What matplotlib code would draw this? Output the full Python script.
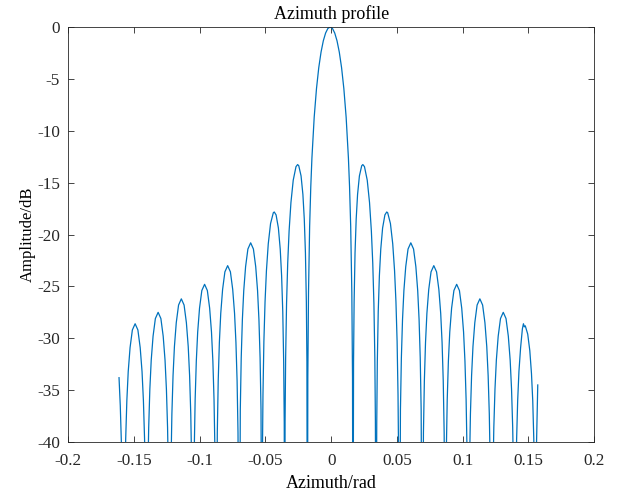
import numpy as np
import matplotlib
matplotlib.use('Agg')
import matplotlib.pyplot as plt

plt.rcParams['font.family'] = ['Liberation Serif', 'DejaVu Serif']
plt.rcParams['axes.unicode_minus'] = False

# --- data (azimuth in rad, amplitude in dB) ---
# nulls drop far below the -40 dB floor, so they are given as -60 and clipped
NULL_DB = -60

nulls = [-0.1580, -0.1403, -0.1230, -0.1050, -0.0876, -0.0699, -0.0526, -0.0354, -0.0181,
         0.0166, 0.0341, 0.0519, 0.0693, 0.0869, 0.1041, 0.1222, 0.1397, 0.1556]

# curve pieces between nulls, left to right
lobe_az = [
    [-0.1614, -0.16045, -0.15958, -0.15888],
    [-0.15703, -0.15633, -0.15545, -0.1544, -0.153, -0.15125, -0.14915, -0.14705, -0.1453, -0.1439, -0.14285, -0.14197, -0.14127],
    [-0.13953, -0.13883, -0.13795, -0.1369, -0.1355, -0.13375, -0.13165, -0.12955, -0.1278, -0.1264, -0.12535, -0.12447, -0.12377],
    [-0.12188, -0.12118, -0.1203, -0.11925, -0.11785, -0.1161, -0.1140, -0.1119, -0.11015, -0.10875, -0.1077, -0.10682, -0.10612],
    [-0.10418, -0.10348, -0.1026, -0.10155, -0.10015, -0.0984, -0.0963, -0.0942, -0.09245, -0.09105, -0.09, -0.08912, -0.08842],
    [-0.08663, -0.08593, -0.08505, -0.084, -0.0826, -0.08085, -0.07875, -0.07665, -0.0749, -0.0735, -0.07245, -0.07157, -0.07087],
    [-0.06913, -0.06843, -0.06755, -0.0665, -0.0651, -0.06335, -0.06125, -0.05915, -0.0574, -0.056, -0.05495, -0.05407, -0.05337],
    [-0.05231, -0.05188, -0.05118, -0.0503, -0.04925, -0.04785, -0.0461, -0.0440, -0.04329, -0.0419, -0.04015, -0.03875, -0.0377, -0.03682, -0.03612, -0.03569],
    [-0.03506, -0.03463, -0.03393, -0.03305, -0.032, -0.0306, -0.02885, -0.02675, -0.02552, -0.02465, -0.0229, -0.0215, -0.02045, -0.01957, -0.01887, -0.01844],
    [-0.01775, -0.01723, -0.01637, -0.0155, -0.01463, -0.0129, -0.01116, -0.00943, -0.00769, -0.00596, -0.00422, -0.00249, -0.00075,
     0.00099, 0.00272, 0.00446, 0.00619, 0.00793, 0.00966, 0.0114, 0.01313, 0.014, 0.01487, 0.01573, 0.01625],
    [0.01704, 0.01747, 0.01817, 0.01905, 0.0201, 0.0215, 0.02325, 0.02412, 0.02535, 0.02745, 0.0292, 0.0306, 0.03165, 0.03253, 0.03323, 0.03366],
    [0.03469, 0.03512, 0.03582, 0.0367, 0.03775, 0.03915, 0.0409, 0.04228, 0.0430, 0.0451, 0.04685, 0.04825, 0.0493, 0.05018, 0.05088, 0.05131],
    [0.05272, 0.05342, 0.0543, 0.05535, 0.05675, 0.0585, 0.0606, 0.0627, 0.06445, 0.06585, 0.0669, 0.06778, 0.06848],
    [0.07022, 0.07092, 0.0718, 0.07285, 0.07425, 0.076, 0.0781, 0.0802, 0.08195, 0.08335, 0.0844, 0.08528, 0.08598],
    [0.08762, 0.08832, 0.0892, 0.09025, 0.09165, 0.0934, 0.0955, 0.0976, 0.09935, 0.10075, 0.1018, 0.10268, 0.10338],
    [0.10527, 0.10597, 0.10685, 0.1079, 0.1093, 0.11105, 0.11315, 0.11525, 0.117, 0.1184, 0.11945, 0.12033, 0.12103],
    [0.12307, 0.12377, 0.12465, 0.1257, 0.1271, 0.12885, 0.13095, 0.13305, 0.1348, 0.1362, 0.13725, 0.13813, 0.13883],
    [0.14049, 0.14112, 0.14192, 0.14288, 0.14415, 0.1455, 0.1463, 0.1470, 0.1477, 0.14956, 0.15115, 0.15242, 0.15338, 0.15418, 0.15481],
    [0.1562, 0.1567, 0.1572],
]

lobe_db = [
    [-33.8, -36.5, -40.2, -45.2],
    [-44.7, -39.7, -36.0, -33.2, -30.9, -29.2, -28.6, -29.2, -30.9, -33.2, -36.0, -39.7, -44.7],
    [-43.6, -38.6, -34.9, -32.1, -29.8, -28.1, -27.5, -28.1, -29.8, -32.1, -34.9, -38.6, -43.6],
    [-42.3, -37.3, -33.6, -30.8, -28.5, -26.8, -26.2, -26.8, -28.5, -30.8, -33.6, -37.3, -42.3],
    [-40.9, -35.9, -32.2, -29.4, -27.1, -25.4, -24.8, -25.4, -27.1, -29.4, -32.2, -35.9, -40.9],
    [-39.1, -34.1, -30.4, -27.6, -25.3, -23.6, -23.0, -23.6, -25.3, -27.6, -30.4, -34.1, -39.1],
    [-36.9, -31.9, -28.2, -25.4, -23.1, -21.4, -20.8, -21.4, -23.1, -25.4, -28.2, -31.9, -36.9],
    [-41.5, -35.45, -30.31, -26.49, -23.50, -20.90, -18.94, -17.90, -17.83, -18.11, -19.37, -21.41, -23.97, -27.43, -32.29, -38.17],
    [-37.96, -31.86, -26.65, -22.75, -19.67, -16.92, -14.76, -13.46, -13.26, -13.37, -14.35, -16.14, -18.50, -21.78, -26.48, -32.26],
    [-33.8, -25.6, -19.23, -15.39, -12.62, -8.69, -5.94, -3.92, -2.42, -1.33, -0.58, -0.14, 0.0,
     -0.14, -0.58, -1.33, -2.42, -3.92, -5.94, -8.69, -12.62, -15.39, -19.23, -25.6, -33.8],
    [-32.26, -26.48, -21.78, -18.50, -16.14, -14.35, -13.37, -13.26, -13.46, -14.76, -16.92, -19.67, -22.75, -26.65, -31.86, -37.96],
    [-38.17, -32.29, -27.43, -23.97, -21.41, -19.37, -18.11, -17.83, -17.90, -18.94, -20.90, -23.50, -26.49, -30.31, -35.45, -41.5],
    [-36.9, -31.9, -28.2, -25.4, -23.1, -21.4, -20.8, -21.4, -23.1, -25.4, -28.2, -31.9, -36.9],
    [-39.1, -34.1, -30.4, -27.6, -25.3, -23.6, -23.0, -23.6, -25.3, -27.6, -30.4, -34.1, -39.1],
    [-40.9, -35.9, -32.2, -29.4, -27.1, -25.4, -24.8, -25.4, -27.1, -29.4, -32.2, -35.9, -40.9],
    [-42.3, -37.3, -33.6, -30.8, -28.5, -26.8, -26.2, -26.8, -28.5, -30.8, -33.6, -37.3, -42.3],
    [-43.6, -38.6, -34.9, -32.1, -29.8, -28.1, -27.5, -28.1, -29.8, -32.1, -34.9, -38.6, -43.6],
    [-44.7, -39.7, -36.0, -33.2, -30.9, -29.1, -28.6, -28.9, -28.8, -29.6, -31.2, -33.4, -36.0, -39.7, -44.7],
    [-40.5, -37.5, -34.5],
]

x_ticks = [-0.2, -0.15, -0.1, -0.05, 0, 0.05, 0.1, 0.15, 0.2]
x_tick_labels = ['-0.2', '-0.15', '-0.1', '-0.05', '0', '0.05', '0.1', '0.15', '0.2']
y_ticks = [-40, -35, -30, -25, -20, -15, -10, -5, 0]
y_tick_labels = ['-40', '-35', '-30', '-25', '-20', '-15', '-10', '-5', '0']

# --- stitch lobes and nulls into one trace ---
az, db = [], []
for i, (xs, ys) in enumerate(zip(lobe_az, lobe_db)):
    az += xs
    db += ys
    if i < len(nulls):
        az.append(nulls[i])
        db.append(NULL_DB)
az = np.array(az)
db = np.array(db)

# --- plot ---
fig = plt.figure(figsize=(6.22, 4.99), dpi=100)
ax = fig.add_axes([0.1098, 0.1142, 0.8452, 0.8317])

ax.plot(az, db, color='#0072BD', linewidth=0.9)

ax.set_xlim(-0.2, 0.2)
ax.set_ylim(-40, 0)
ax.set_xticks(x_ticks)
ax.set_xticklabels(x_tick_labels)
ax.set_yticks(y_ticks)
ax.set_yticklabels(y_tick_labels)

axis_grey = '#262626'
for s in ax.spines.values():
    s.set_color(axis_grey)
    s.set_linewidth(0.6)
ax.tick_params(direction='in', length=4, width=0.6, color=axis_grey,
               top=True, right=True, labelsize=12.3, labelcolor='#262626')
ax.tick_params(axis='x', pad=8)
ax.tick_params(axis='y', pad=6)

ax.set_title('Azimuth profile', fontsize=13, color='#000000', pad=6)
ax.set_xlabel('Azimuth/rad', fontsize=13, labelpad=4)
ax.set_ylabel('Amplitude/dB', fontsize=12, labelpad=1)

fig.savefig('out.png', dpi=100)
